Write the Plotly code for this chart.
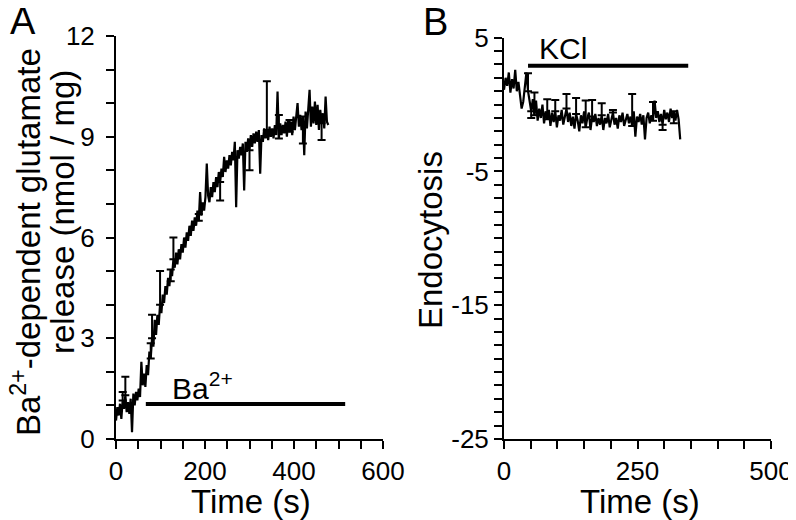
import plotly.graph_objects as go

FONT = "Liberation Sans, Arial, Helvetica, sans-serif"
# the page places the figure 8 px from the window's top-left corner
OFF = 8
W, H = 796 - OFF, 520 - OFF

# ---------------- Panel A data (time in s, release in nmol/mg) ----------------
a_t = [0, 3, 6, 9, 12, 15, 18, 21, 24, 27,
       30, 33, 36, 39, 42, 45, 48, 51, 54, 57,
       60, 63, 66, 69, 72, 75, 78, 81, 84, 87,
       90, 93, 96, 99, 102, 105, 108, 111, 114, 117,
       120, 123, 126, 129, 132, 135, 138, 141, 144, 147,
       150, 153, 156, 159, 162, 165, 168, 171, 174, 177,
       180, 183, 186, 189, 192, 195, 198, 201, 204, 207,
       210, 213, 216, 219, 222, 225, 228, 231, 234, 237,
       240, 243, 246, 249, 252, 255, 258, 261, 264, 267,
       270, 273, 276, 279, 282, 285, 288, 291, 294, 297,
       300, 303, 306, 309, 312, 315, 318, 321, 324, 327,
       330, 333, 336, 339, 342, 345, 348, 351, 354, 357,
       360, 363, 366, 369, 372, 375, 378, 381, 384, 387,
       390, 393, 396, 399, 402, 405, 408, 411, 414, 417,
       420, 423, 426, 429, 432, 435, 438, 441, 444, 447,
       450, 453, 456, 459, 462, 465, 468, 471, 474, 477]
a_v = [0.55, 0.95, 0.70, 1.05, 0.60, 1.15, 0.90, 1.30, 0.80, 1.10,
       0.75, 1.20, 0.20, 1.35, 1.00, 1.40, 1.15, 1.50, 1.25, 2.30,
       1.60, 1.95, 1.55, 2.20, 1.90, 2.60, 2.40, 3.00, 2.75, 3.55,
       3.10, 3.70, 3.40, 4.00, 3.75, 4.30, 4.05, 4.55, 4.30, 4.80,
       4.55, 5.05, 4.85, 5.35, 5.10, 5.55, 5.20, 5.65, 5.35, 5.80,
       5.55, 6.00, 5.70, 6.15, 5.90, 6.35, 6.05, 6.50, 6.20, 6.60,
       6.35, 6.80, 6.50, 7.35, 6.65, 7.05, 6.80, 7.20, 8.20, 7.25,
       7.05, 7.50, 7.20, 7.65, 7.35, 7.80, 7.50, 7.95, 7.65, 8.05,
       7.80, 8.40, 7.95, 8.30, 8.05, 8.45, 8.15, 8.55, 8.30, 8.85,
       6.90, 8.60, 8.35, 8.70, 8.45, 8.80, 7.40, 8.85, 8.55, 8.95,
       8.60, 9.05, 8.70, 9.10, 8.80, 9.15, 8.85, 9.20, 7.90, 9.05,
       8.85, 9.25, 8.95, 9.20, 8.90, 9.30, 9.00, 9.25, 8.95, 9.35,
       9.05, 10.35, 8.95, 9.40, 9.05, 9.35, 9.10, 9.45, 9.00, 9.50,
       9.15, 9.45, 9.05, 9.60, 9.20, 9.55, 10.00, 9.30, 9.65, 9.20,
       9.60, 8.45, 9.75, 9.25, 9.85, 10.40, 9.30, 9.90, 9.40, 10.05,
       9.35, 9.95, 9.20, 9.80, 9.40, 9.70, 9.25, 10.20, 9.45, 9.35]

# one-sided error bars (Prism style) at selected samples
a_eb_t = [15, 21, 78, 81, 99, 123, 129, 186, 234, 300, 339, 366, 390, 420, 462]
a_eb_v = [1.15, 1.30, 2.40, 3.00, 4.00, 5.05, 5.35, 6.50, 7.65, 8.60, 9.20, 8.95, 9.15, 9.60, 9.40]
a_eb_up = [0.25, 0.55, 0.45, 0.70, 1.00, 0.00, 0.65, 0.20, 0.00, 0.00, 1.45, 0.70, 0.35, 0.00, 0.00]
a_eb_dn = [0.00, 0.00, 0.00, 0.00, 0.00, 0.35, 0.00, 0.00, 0.55, 0.60, 0.00, 0.00, 0.00, 0.80, 0.50]

# Ba2+ application bar
a_bar_t = [67, 515]
a_bar_v = [1.04, 1.04]

# ---------------- Panel B data (time in s, endocytosis) ----------------
b_t = [0, 3, 6, 9, 12, 15, 18, 21, 24, 27,
       30, 33, 36, 39, 42, 45, 48, 51, 54, 57,
       60, 63, 66, 69, 72, 75, 78, 81, 84, 87,
       90, 93, 96, 99, 102, 105, 108, 111, 114, 117,
       120, 123, 126, 129, 132, 135, 138, 141, 144, 147,
       150, 153, 156, 159, 162, 165, 168, 171, 174, 177,
       180, 183, 186, 189, 192, 195, 198, 201, 204, 207,
       210, 213, 216, 219, 222, 225, 228, 231, 234, 237,
       240, 243, 246, 249, 252, 255, 258, 261, 264, 267,
       270, 273, 276, 279, 282, 285, 288, 291, 294, 297,
       300, 303, 306, 309, 312, 315, 318, 321, 324, 327,
       330]
b_v = [1.1, 2.0, 1.4, 2.4, 0.9, 1.9, 1.2, 2.6, 1.0, 1.7,
       0.7, -0.3, 0.2, 1.5, 2.4, 1.0, 0.2, -0.5, 0.4, -0.8,
       0.3, -1.2, -0.3, -1.0, 0.0, -1.4, -0.5, -1.1, -0.4, -1.6,
       -0.6, -1.3, -0.5, -1.7, -0.8, -1.2, -0.4, -1.5, -0.9, -0.3,
       -1.3, -0.6, -1.6, -0.9, -1.8, -0.7, -1.2, -2.0, -0.8, -1.4,
       -0.5, -1.7, -1.0, -0.6, -1.9, -0.9, -1.3, -0.7, -1.6, -1.0,
       -1.5, -0.8, -1.9, -1.0, -1.4, -0.7, -1.7, -1.1, -0.6, -1.5,
       -1.0, -1.8, -0.8, -1.3, -0.6, -1.6, -1.1, -0.7, -1.4, -0.9,
       -1.6, -0.5, -2.4, -0.9, -1.3, -0.7, -1.5, -0.8, -2.6, -1.0,
       -0.6, -1.4, -0.8, -1.2, 0.3, -1.0, -0.5, -1.3, -0.7, -1.5,
       -0.4, -1.1, -0.6, -1.3, -0.3, -1.0, -0.5, -1.2, -0.4, -1.1,
       -2.6]

b_eb_t = [45, 51, 57, 81, 96, 117, 135, 153, 165, 183, 204, 240, 279, 297, 318]
b_eb_v = [1.0, -0.5, -0.8, -1.1, -0.5, -0.3, -0.7, -1.7, -0.9, -0.8, -0.6, -1.6, -1.2, -1.5, -0.5]
b_eb_up = [1.35, 0.0, 1.7, 1.5, 0.85, 1.1, 1.2, 2.0, 1.25, 0.9, 0.2, 2.4, 1.4, 0.0, 0.0]
b_eb_dn = [0.0, 0.5, 0.0, 0.0, 0.0, 0.0, 0.0, 0.0, 0.0, 0.0, 0.0, 0.0, 0.0, 0.4, 0.9]

# KCl application bar
b_bar_t = [45, 345]
b_bar_v = [2.9, 2.9]


def px(x):
    """window pixel x -> paper fraction"""
    return (x - OFF) / W


def py(y):
    """window pixel y (from top) -> paper fraction"""
    return 1 - (y - OFF) / H


fig = go.Figure()

LW = 2.2
# Panel A traces
fig.add_trace(go.Scatter(x=a_t, y=a_v, mode="lines", line=dict(color="black", width=LW),
                         xaxis="x", yaxis="y", showlegend=False, hoverinfo="skip"))
fig.add_trace(go.Scatter(x=a_eb_t, y=a_eb_v, mode="markers",
                         marker=dict(size=1, color="black"),
                         error_y=dict(type="data", symmetric=False, array=a_eb_up,
                                      arrayminus=a_eb_dn, color="black", thickness=2, width=4),
                         xaxis="x", yaxis="y", showlegend=False, hoverinfo="skip"))
fig.add_trace(go.Scatter(x=a_bar_t, y=a_bar_v, mode="lines", line=dict(color="black", width=4),
                         xaxis="x", yaxis="y", showlegend=False, hoverinfo="skip"))

# Panel B traces
fig.add_trace(go.Scatter(x=b_t, y=b_v, mode="lines", line=dict(color="black", width=LW),
                         xaxis="x2", yaxis="y2", showlegend=False, hoverinfo="skip"))
fig.add_trace(go.Scatter(x=b_eb_t, y=b_eb_v, mode="markers",
                         marker=dict(size=1, color="black"),
                         error_y=dict(type="data", symmetric=False, array=b_eb_up,
                                      arrayminus=b_eb_dn, color="black", thickness=2, width=4),
                         xaxis="x2", yaxis="y2", showlegend=False, hoverinfo="skip"))
fig.add_trace(go.Scatter(x=b_bar_t, y=b_bar_v, mode="lines", line=dict(color="black", width=4),
                         xaxis="x2", yaxis="y2", showlegend=False, hoverinfo="skip"))

tickfont = dict(family=FONT, size=26, color="black")
common = dict(showline=True, linecolor="black", linewidth=2, ticks="outside", ticklen=8,
              tickwidth=2, tickcolor="black", showgrid=False, zeroline=False,
              tickfont=tickfont, fixedrange=True, automargin=False)


def minor(d):
    return dict(ticks="outside", ticklen=8, tickwidth=2, tickcolor="black", dtick=d,
                showgrid=False)


fig.update_layout(
    template="none",
    width=W, height=H, margin=dict(l=0, r=0, t=0, b=0, pad=0),
    paper_bgcolor="white", plot_bgcolor="white",
    xaxis=dict(domain=[px(116), px(383)], range=[0, 600], tickvals=[0, 200, 400, 600],
               ticktext=["0", "200", "400", "600"], minor=minor(50), anchor="y", **common),
    yaxis=dict(domain=[py(439), py(36)], range=[0, 12], tickvals=[0, 3, 6, 9, 12],
               ticktext=["0", "3", "6", "9", "12"], minor=minor(1), anchor="x",
               ticklabelstandoff=6, **common),
    xaxis2=dict(domain=[px(504), px(771)], range=[0, 500], tickvals=[0, 250, 500],
                ticktext=["0", "250", "500"], minor=minor(50), anchor="y2", **common),
    yaxis2=dict(domain=[py(439), py(37.7)], range=[-25, 5], tickvals=[5, -5, -15, -25],
                ticktext=["5", "-5", "-15", "-25"], minor=minor(1), anchor="x2", **common),
)

ann = []
title_font = dict(family=FONT, size=33, color="black")
ann.append(dict(x=px(251), y=py(501), xref="paper", yref="paper", text="Time (s)",
                showarrow=False, font=title_font, xanchor="center", yanchor="middle"))
ann.append(dict(x=px(640), y=py(501), xref="paper", yref="paper", text="Time (s)",
                showarrow=False, font=title_font, xanchor="center", yanchor="middle"))
ann.append(dict(x=px(430), y=py(240), xref="paper", yref="paper", text="Endocytosis",
                showarrow=False, font=title_font, textangle=-90, xanchor="center",
                yanchor="middle"))
# two-line y title of panel A, one annotation per line
ann.append(dict(x=px(26), y=py(242), xref="paper", yref="paper",
                text="Ba<sup>2+</sup>-dependent glutamate",
                showarrow=False, font=title_font, textangle=-90, xanchor="center",
                yanchor="middle"))
ann.append(dict(x=px(62), y=py(212), xref="paper", yref="paper",
                text="release (nmol / mg)",
                showarrow=False, font=title_font, textangle=-90, xanchor="center",
                yanchor="middle"))
letter_font = dict(family=FONT, size=38, color="black")
ann.append(dict(x=px(23), y=py(21), xref="paper", yref="paper", text="A",
                showarrow=False, font=letter_font, xanchor="center", yanchor="middle"))
ann.append(dict(x=px(436), y=py(22), xref="paper", yref="paper", text="B",
                showarrow=False, font=letter_font, xanchor="center", yanchor="middle"))
label_font = dict(family=FONT, size=30, color="black")
ann.append(dict(x=121, y=1.58, xref="x", yref="y", text="Ba<sup>2+</sup>",
                showarrow=False, font=label_font, xanchor="left", yanchor="middle"))
ann.append(dict(x=62, y=4.16, xref="x2", yref="y2", text="KCl",
                showarrow=False, font=label_font, xanchor="left", yanchor="middle"))
fig.update_layout(annotations=ann)

fig.write_html("out.html")
